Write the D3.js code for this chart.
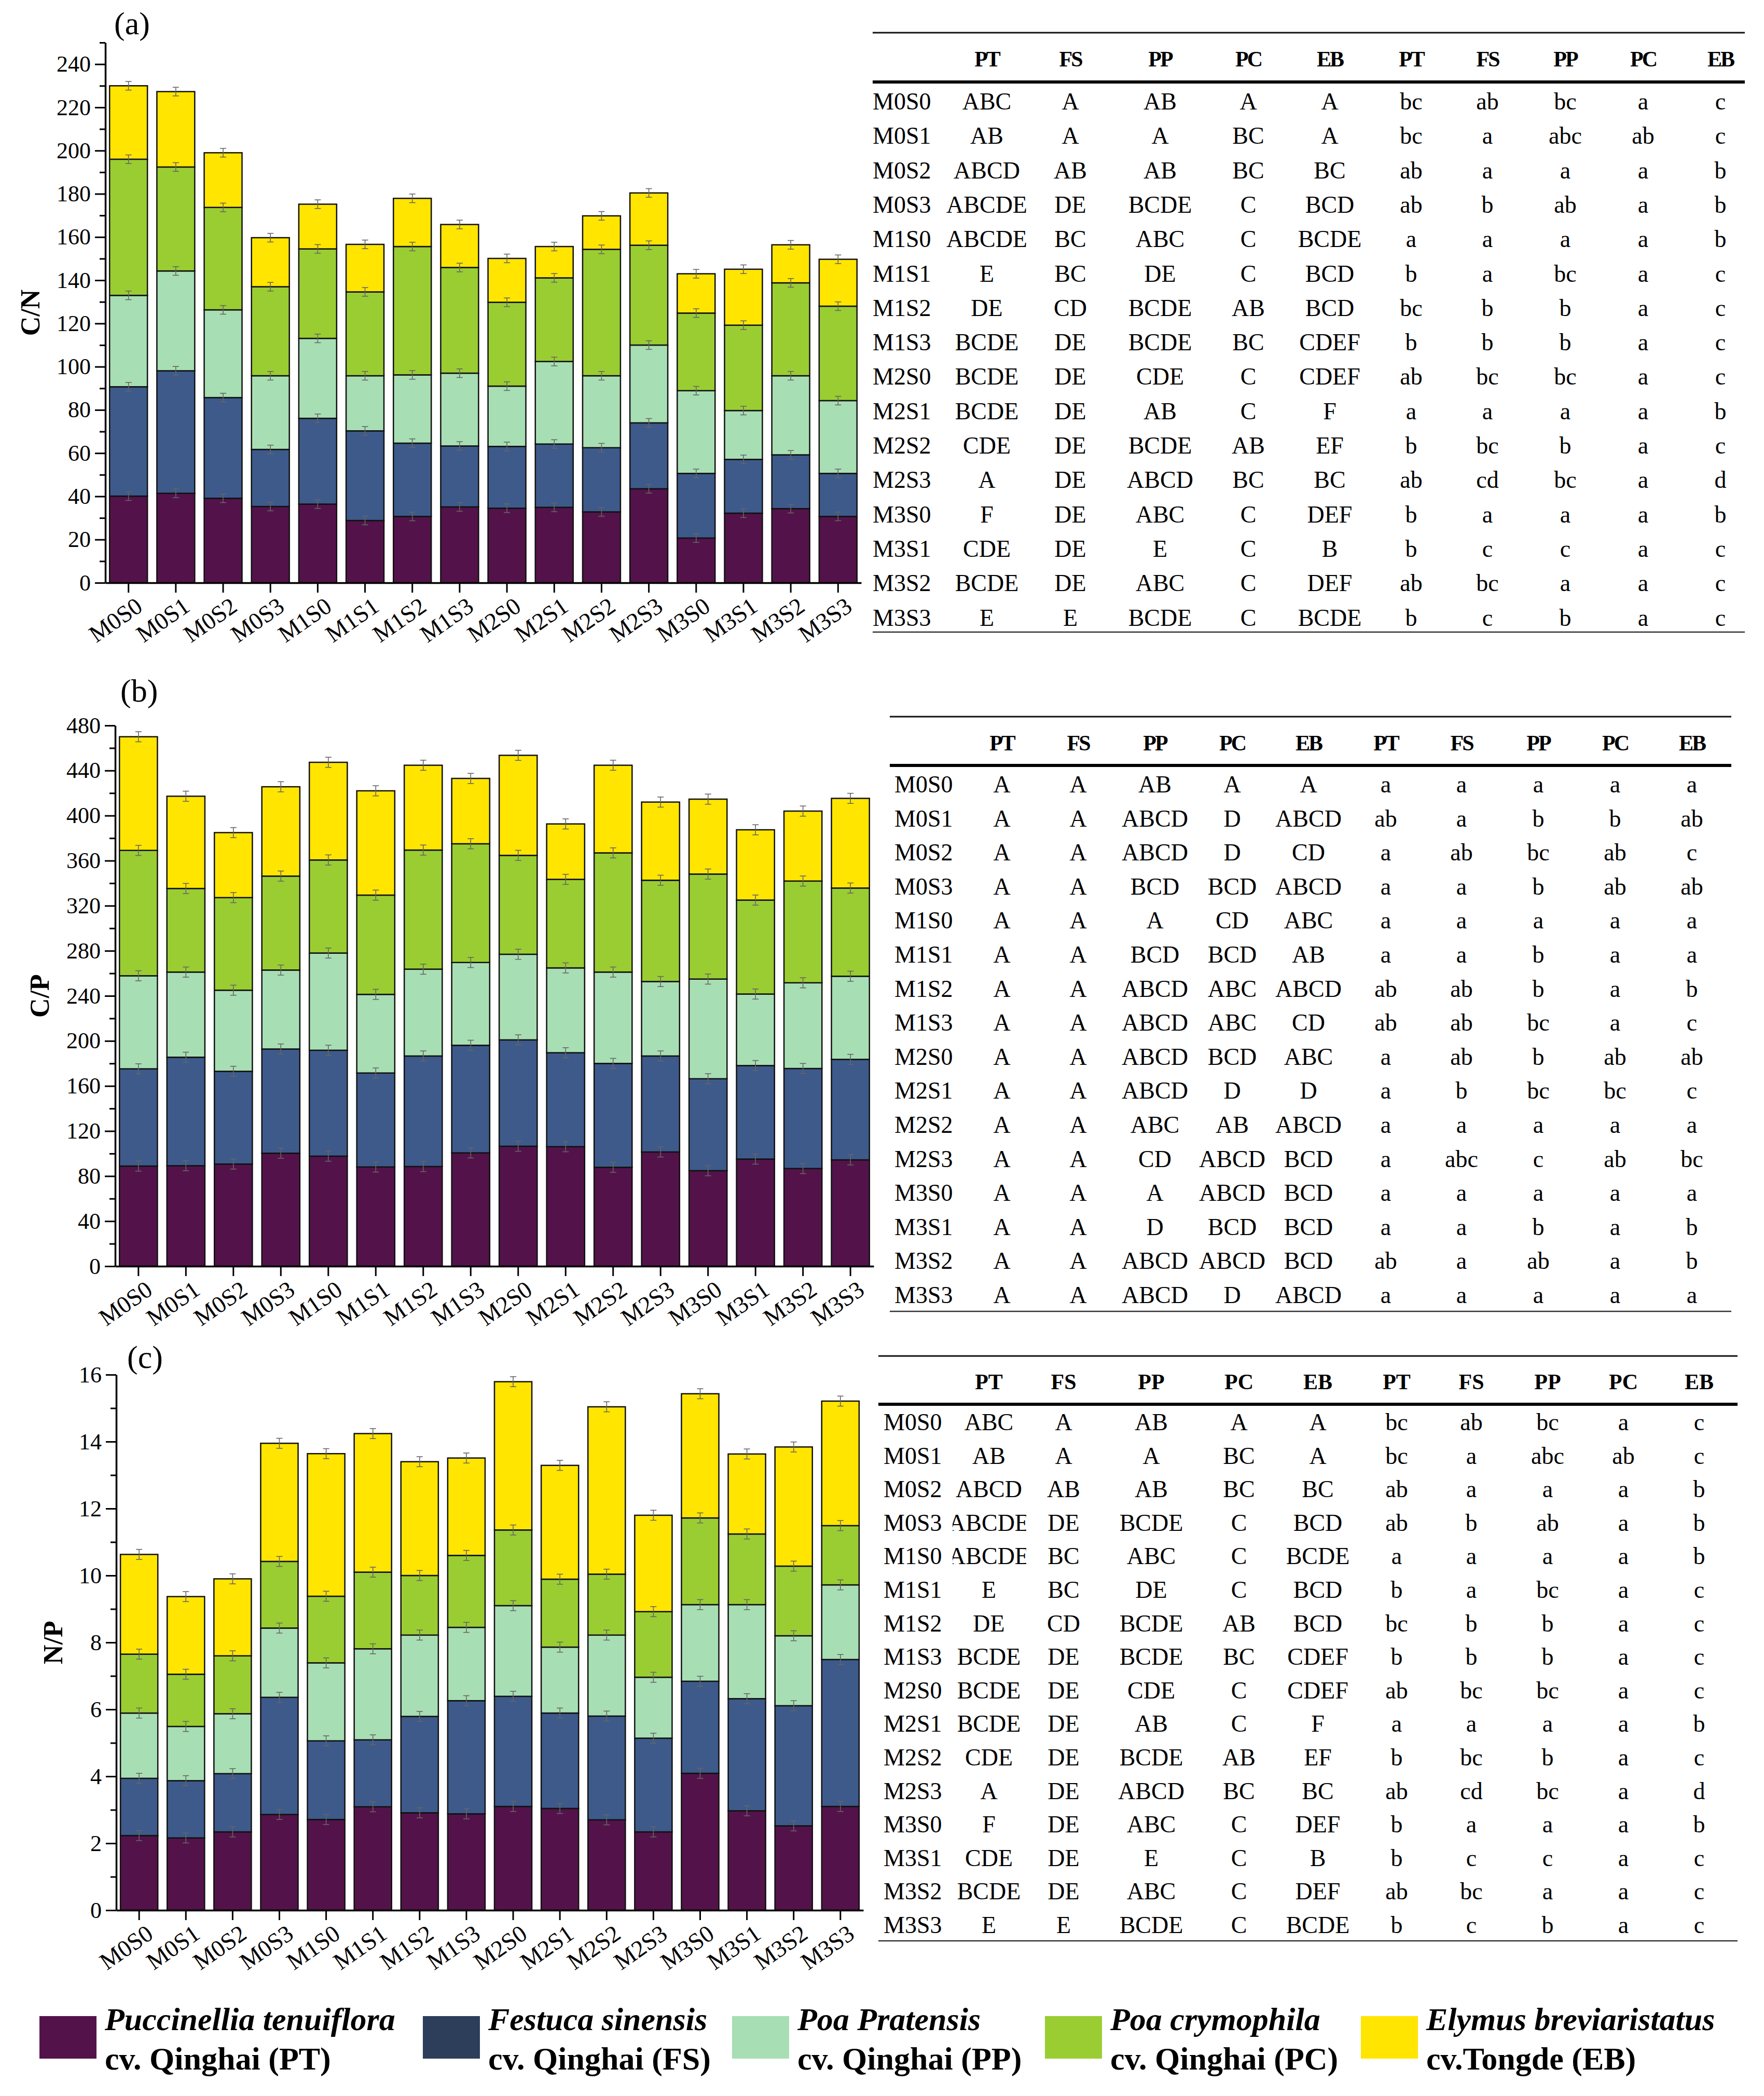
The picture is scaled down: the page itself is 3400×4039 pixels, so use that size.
<!DOCTYPE html>
<html>
<head>
<meta charset="utf-8">
<script src="https://cdn.jsdelivr.net/npm/d3@7"></script>
<style>
  body { margin: 0; background: #fff; }
  text { font-family: "Liberation Serif", "Times New Roman", serif; fill: #000; }
</style>
</head>
<body>
<svg id="fig" width="3400" height="4039"></svg>
<script>
// categories
const treatments = ["M0S0", "M0S1", "M0S2", "M0S3", "M1S0", "M1S1", "M1S2", "M1S3",
                    "M2S0", "M2S1", "M2S2", "M2S3", "M3S0", "M3S1", "M3S2", "M3S3"]
const species = ["PT", "FS", "PP", "PC", "EB"]
const speciesColors = ["#53134a", "#3d5a8a", "#a8deb4", "#9acd32", "#ffe500"]
const legendColors = ["#53134a", "#2d3e5a", "#a8deb4", "#9acd32", "#ffe500"]
const legendNames = ["Puccinellia tenuiflora", "Festuca sinensis", "Poa Pratensis", "Poa crymophila", "Elymus breviaristatus"]
const legendCultivars = ["cv. Qinghai (PT)", "cv. Qinghai (FS)", "cv. Qinghai (PP)", "cv. Qinghai (PC)", "cv.Tongde (EB)"]

// (a) C/N, one segment per species
const cnPT = [40.1, 41.4, 39.1, 35.3, 36.4, 28.8, 30.7, 35.1, 34.5, 34.9, 32.8, 43.5, 20.7, 32.2, 34.3, 30.7]
const cnFS = [50.6, 56.7, 46.6, 26.4, 39.7, 41.5, 33.9, 28.2, 28.6, 29.3, 29.7, 30.5, 29.9, 24.9, 24.9, 19.9]
const cnPP = [42.3, 46.2, 40.6, 34.1, 37.0, 25.5, 31.6, 33.7, 27.9, 38.2, 33.3, 36.0, 38.3, 22.6, 36.6, 33.7]
const cnPC = [63.0, 48.1, 47.4, 41.2, 41.4, 38.8, 59.4, 48.9, 38.8, 38.7, 58.5, 46.2, 35.9, 39.5, 43.0, 43.7]
const cnEB = [34.0, 34.9, 25.3, 22.7, 20.7, 22.0, 22.3, 19.9, 20.3, 14.5, 15.5, 24.2, 18.2, 25.9, 17.6, 21.7]

// (b) C/P
const cpPT = [88.9, 89.2, 90.7, 100.3, 97.7, 88.1, 88.5, 100.6, 106.5, 106.1, 87.8, 101.4, 84.8, 95.1, 86.7, 94.4]
const cpFS = [86.3, 96.3, 82.3, 92.5, 94.0, 83.4, 98.1, 95.5, 94.4, 83.4, 92.2, 85.2, 81.6, 83.0, 88.8, 89.2]
const cpPP = [82.6, 75.6, 72.0, 70.1, 86.3, 69.8, 77.1, 73.5, 76.0, 75.3, 81.1, 66.1, 88.5, 63.5, 76.1, 73.8]
const cpPC = [111.3, 74.2, 82.2, 83.4, 82.6, 88.1, 105.7, 105.4, 87.8, 78.6, 105.8, 89.9, 93.2, 83.4, 90.3, 78.3]
const cpEB = [100.9, 81.9, 57.7, 79.3, 86.7, 92.6, 75.3, 58.0, 88.8, 49.2, 77.8, 69.4, 66.5, 62.4, 62.1, 79.6]

// (c) N/P
const npPT = [2.23, 2.16, 2.34, 2.86, 2.71, 3.09, 2.91, 2.88, 3.10, 3.04, 2.70, 2.34, 4.09, 2.97, 2.52, 3.10]
const npFS = [1.71, 1.71, 1.74, 3.50, 2.35, 2.00, 2.88, 3.38, 3.29, 2.85, 3.10, 2.80, 2.75, 3.35, 3.59, 4.39]
const npPP = [1.95, 1.62, 1.79, 2.07, 2.33, 2.72, 2.43, 2.19, 2.71, 1.97, 2.42, 1.82, 2.29, 2.81, 2.09, 2.23]
const npPC = [1.76, 1.56, 1.73, 1.99, 1.99, 2.29, 1.78, 2.15, 2.26, 2.03, 1.82, 1.96, 2.59, 2.11, 2.08, 1.77]
const npEB = [2.98, 2.32, 2.30, 3.53, 4.26, 4.14, 3.40, 2.91, 4.43, 3.40, 5.00, 2.88, 3.71, 2.39, 3.56, 3.72]

// approximate half-length of the small error whiskers
const cnErr = 2
const cpErr = 4.5
const npErr = 0.15

// tick labels
const cnTicks = [0, 20, 40, 60, 80, 100, 120, 140, 160, 180, 200, 220, 240]
const cpTicks = [0, 40, 80, 120, 160, 200, 240, 280, 320, 360, 400, 440, 480]
const npTicks = [0, 2, 4, 6, 8, 10, 12, 14, 16]

// significance letters (upper case: within species, lower case: within treatment)
const tableA = [
  ["ABC", "A", "AB", "A", "A", "bc", "ab", "bc", "a", "c"],
  ["AB", "A", "A", "BC", "A", "bc", "a", "abc", "ab", "c"],
  ["ABCD", "AB", "AB", "BC", "BC", "ab", "a", "a", "a", "b"],
  ["ABCDE", "DE", "BCDE", "C", "BCD", "ab", "b", "ab", "a", "b"],
  ["ABCDE", "BC", "ABC", "C", "BCDE", "a", "a", "a", "a", "b"],
  ["E", "BC", "DE", "C", "BCD", "b", "a", "bc", "a", "c"],
  ["DE", "CD", "BCDE", "AB", "BCD", "bc", "b", "b", "a", "c"],
  ["BCDE", "DE", "BCDE", "BC", "CDEF", "b", "b", "b", "a", "c"],
  ["BCDE", "DE", "CDE", "C", "CDEF", "ab", "bc", "bc", "a", "c"],
  ["BCDE", "DE", "AB", "C", "F", "a", "a", "a", "a", "b"],
  ["CDE", "DE", "BCDE", "AB", "EF", "b", "bc", "b", "a", "c"],
  ["A", "DE", "ABCD", "BC", "BC", "ab", "cd", "bc", "a", "d"],
  ["F", "DE", "ABC", "C", "DEF", "b", "a", "a", "a", "b"],
  ["CDE", "DE", "E", "C", "B", "b", "c", "c", "a", "c"],
  ["BCDE", "DE", "ABC", "C", "DEF", "ab", "bc", "a", "a", "c"],
  ["E", "E", "BCDE", "C", "BCDE", "b", "c", "b", "a", "c"]
]
const tableB = [
  ["A", "A", "AB", "A", "A", "a", "a", "a", "a", "a"],
  ["A", "A", "ABCD", "D", "ABCD", "ab", "a", "b", "b", "ab"],
  ["A", "A", "ABCD", "D", "CD", "a", "ab", "bc", "ab", "c"],
  ["A", "A", "BCD", "BCD", "ABCD", "a", "a", "b", "ab", "ab"],
  ["A", "A", "A", "CD", "ABC", "a", "a", "a", "a", "a"],
  ["A", "A", "BCD", "BCD", "AB", "a", "a", "b", "a", "a"],
  ["A", "A", "ABCD", "ABC", "ABCD", "ab", "ab", "b", "a", "b"],
  ["A", "A", "ABCD", "ABC", "CD", "ab", "ab", "bc", "a", "c"],
  ["A", "A", "ABCD", "BCD", "ABC", "a", "ab", "b", "ab", "ab"],
  ["A", "A", "ABCD", "D", "D", "a", "b", "bc", "bc", "c"],
  ["A", "A", "ABC", "AB", "ABCD", "a", "a", "a", "a", "a"],
  ["A", "A", "CD", "ABCD", "BCD", "a", "abc", "c", "ab", "bc"],
  ["A", "A", "A", "ABCD", "BCD", "a", "a", "a", "a", "a"],
  ["A", "A", "D", "BCD", "BCD", "a", "a", "b", "a", "b"],
  ["A", "A", "ABCD", "ABCD", "BCD", "ab", "a", "ab", "a", "b"],
  ["A", "A", "ABCD", "D", "ABCD", "a", "a", "a", "a", "a"]
]
// the N/P panel repeats the letters of the C/N panel in the original figure
const tableC = tableA

const serif = '"Liberation Serif", "Times New Roman", serif'
const svg = d3.select("#fig")

// stacked bar panel
const drawPanel = function (p) {
  const rows = treatments.map((t, i) => {
    const r = { name: t }
    species.forEach((s, k) => { r[s] = p.series[k][i] })
    return r
  })
  const layers = d3.stack().keys(species)(rows)

  const x = d3.scaleBand()
    .domain(treatments)
    .range([p.left, p.right])
    .paddingInner(0.2)
    .paddingOuter(0.09)

  const y = d3.scaleLinear()
    .domain([0, p.max])
    .range([p.bottom, p.top])

  const g = svg.append("g")

  g.selectAll("g.layer")
    .data(layers)
    .join("g")
    .attr("class", "layer")
    .attr("fill", (d, i) => speciesColors[i])
    .selectAll("rect")
    .data(d => d)
    .join("rect")
    .attr("x", d => x(d.data.name))
    .attr("width", x.bandwidth())
    .attr("y", d => y(d[1]))
    .attr("height", d => y(d[0]) - y(d[1]))
    .attr("stroke", "#111")
    .attr("stroke-width", 2.5)

  // error whiskers at every segment top
  const tops = layers.flatMap(l => l.map(d => ({ name: d.data.name, v: d[1] })))
  const eb = g.append("g").attr("stroke", "#666").attr("stroke-width", 1.6)
  tops.forEach(d => {
    const cx = x(d.name) + x.bandwidth() / 2
    eb.append("line").attr("x1", cx).attr("x2", cx)
      .attr("y1", y(d.v - p.err)).attr("y2", y(d.v + p.err))
    eb.append("line").attr("x1", cx - 6).attr("x2", cx + 6)
      .attr("y1", y(d.v + p.err)).attr("y2", y(d.v + p.err))
    eb.append("line").attr("x1", cx - 6).attr("x2", cx + 6)
      .attr("y1", y(d.v - p.err)).attr("y2", y(d.v - p.err))
  })

  // y axis, major + minor ticks
  const minor = d3.range(p.minorStep, p.max + 0.001, p.minorStep)
    .filter(v => !p.ticks.some(t => Math.abs(t - v) < 1e-6))

  const yMinor = g.append("g")
    .attr("transform", `translate(${p.left},0)`)
    .call(d3.axisLeft(y).tickValues(minor).tickSize(11).tickSizeOuter(0).tickFormat(""))
  yMinor.select(".domain").remove()

  const yAxis = g.append("g")
    .attr("transform", `translate(${p.left},0)`)
    .call(d3.axisLeft(y).tickValues(p.ticks).tickSize(20).tickSizeOuter(0).tickPadding(8))
    .attr("font-family", serif)
  yAxis.selectAll("text").attr("font-size", 44)
  g.selectAll(".tick line").attr("stroke-width", 3)
  yAxis.select(".domain").attr("stroke-width", 3.5)

  // x axis
  const xAxis = g.append("g")
    .attr("transform", `translate(0,${p.bottom})`)
    .call(d3.axisBottom(x).tickSize(19).tickSizeOuter(0))
    .attr("font-family", serif)
  xAxis.select(".domain").attr("stroke-width", 3.5)
  xAxis.selectAll(".tick line").attr("stroke-width", 3)
  xAxis.selectAll("text")
    .attr("font-size", 46)
    .attr("text-anchor", "end")
    .attr("y", 0).attr("dy", 0)
    .attr("transform", "translate(30,52) rotate(-35)")

  // y title
  svg.append("text")
    .attr("transform", `translate(${p.titleX},${(p.top + p.bottom) / 2}) rotate(-90)`)
    .attr("text-anchor", "middle")
    .attr("dy", "0.35em")
    .attr("font-size", 52)
    .attr("font-weight", "bold")
    .text(p.title)

  // panel letter
  svg.append("text")
    .attr("x", p.letterX).attr("y", p.letterY)
    .attr("font-size", 62)
    .text(p.letter)
}

// table of significance letters
const drawTable = function (t) {
  const g = svg.append("g")
  g.append("line").attr("x1", t.left).attr("x2", t.right).attr("y1", t.topLine).attr("y2", t.topLine)
    .attr("stroke", "#111").attr("stroke-width", 3)
  g.append("line").attr("x1", t.left).attr("x2", t.right).attr("y1", t.headLine).attr("y2", t.headLine)
    .attr("stroke", "#000").attr("stroke-width", 6)
  g.append("line").attr("x1", t.left).attr("x2", t.right).attr("y1", t.bottomLine).attr("y2", t.bottomLine)
    .attr("stroke", "#333").attr("stroke-width", 2.5)

  const header = species.concat(species)
  g.selectAll("text.head")
    .data(header)
    .join("text")
    .attr("class", "head")
    .attr("x", (d, i) => t.cols[i])
    .attr("y", t.headY)
    .attr("text-anchor", "middle")
    .attr("font-size", 42)
    .attr("font-weight", "bold")
    .attr("letter-spacing", t.condensed ? -3 : 0)
    .text(d => d)

  const rowY = i => t.firstRow + i * t.rowStep

  g.selectAll("text.lab")
    .data(treatments)
    .join("text")
    .attr("class", "lab")
    .attr("x", t.labelX)
    .attr("y", (d, i) => rowY(i))
    .attr("font-size", 46)
    .text(d => d)

  if (t.clipFirst) {
    svg.append("clipPath").attr("id", t.clipFirst)
      .append("rect")
      .attr("x", t.cols[0] - 70).attr("width", 142)
      .attr("y", t.headLine).attr("height", t.bottomLine - t.headLine)
  }

  t.data.forEach((row, i) => {
    row.forEach((cell, j) => {
      const txt = g.append("text")
        .attr("x", t.cols[j])
        .attr("y", rowY(i))
        .attr("text-anchor", "middle")
        .attr("font-size", 46)
        .text(cell)
      if (t.clipFirst && j === 0) txt.attr("clip-path", `url(#${t.clipFirst})`)
    })
  })
}

drawPanel({
  series: [cnPT, cnFS, cnPP, cnPC, cnEB], err: cnErr,
  max: 250, ticks: cnTicks, minorStep: 10,
  left: 203, right: 1660, top: 82, bottom: 1123,
  title: "C/N", titleX: 58, letter: "(a)", letterX: 220, letterY: 66
})
drawPanel({
  series: [cpPT, cpFS, cpPP, cpPC, cpEB], err: cpErr,
  max: 480, ticks: cpTicks, minorStep: 20,
  left: 222, right: 1684, top: 1398, bottom: 2440,
  title: "C/P", titleX: 76, letter: "(b)", letterX: 232, letterY: 1352
})
drawPanel({
  series: [npPT, npFS, npPP, npPC, npEB], err: npErr,
  max: 16, ticks: npTicks, minorStep: 1,
  left: 224, right: 1664, top: 2649, bottom: 3681,
  title: "N/P", titleX: 102, letter: "(c)", letterX: 245, letterY: 2636
})

drawTable({
  data: tableA, left: 1682, right: 3363, labelX: 1682,
  topLine: 63, headLine: 158, bottomLine: 1218, headY: 128,
  firstRow: 211, rowStep: 66.3, condensed: true,
  cols: [1902, 2063, 2236, 2406, 2563, 2720, 2867, 3017, 3167, 3316]
})
drawTable({
  data: tableB, left: 1715, right: 3337, labelX: 1724,
  topLine: 1381, headLine: 1475, bottomLine: 2527, headY: 1446,
  firstRow: 1527, rowStep: 65.6, condensed: true,
  cols: [1931, 2078, 2226, 2375, 2522, 2671, 2817, 2965, 3113, 3261]
})
drawTable({
  data: tableC, left: 1693, right: 3349, labelX: 1703,
  topLine: 2613, headLine: 2706, bottomLine: 3740, headY: 2677,
  firstRow: 2756, rowStep: 64.6, condensed: false, clipFirst: "clipC",
  cols: [1906, 2050, 2219, 2388, 2540, 2692, 2836, 2983, 3129, 3275]
})

// legend
const legendX = [76, 815, 1411, 2014, 2623]
const legend = svg.append("g")
legendX.forEach((lx, i) => {
  legend.append("rect")
    .attr("x", lx).attr("y", 3885)
    .attr("width", 110).attr("height", 82)
    .attr("fill", legendColors[i])
  legend.append("text")
    .attr("x", lx + 126).attr("y", 3912)
    .attr("font-size", 62)
    .attr("font-weight", "bold")
    .attr("font-style", "italic")
    .text(legendNames[i])
  legend.append("text")
    .attr("x", lx + 126).attr("y", 3988)
    .attr("font-size", 62)
    .attr("font-weight", "bold")
    .text(legendCultivars[i])
})
</script>
</body>
</html>
